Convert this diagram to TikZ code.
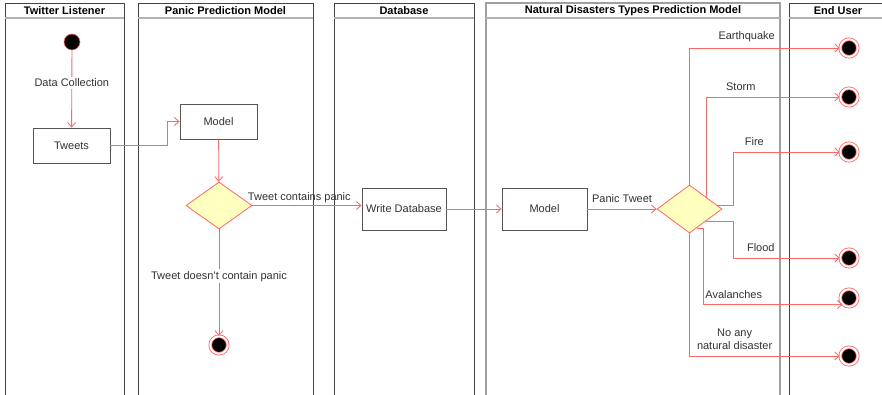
\documentclass[tikz,border=0pt]{standalone}
\usepackage{fontspec}
\setmainfont{Liberation Sans}
\usetikzlibrary{arrows.meta,shapes.geometric}

\definecolor{flow}{HTML}{FF6666}
\definecolor{lanecol}{HTML}{444444}
\definecolor{boxcol}{HTML}{555555}
\definecolor{txt}{HTML}{333333}
\definecolor{decfill}{HTML}{FFFFC0}

\begin{document}
\begin{tikzpicture}[x=1pt,y=-1pt,
  font=\fontsize{11}{13}\selectfont,
  lane/.style={draw=lanecol, line width=0.9pt},
  softlane/.style={draw=gray!75, line width=1.1pt},
  headline/.style={draw=gray!60, line width=1.2pt},
  lanehead/.style={font=\fontsize{11}{13}\selectfont\bfseries, text=black, inner sep=0pt},
  action/.style={draw=boxcol, line width=0.9pt, fill=white, text=txt, inner sep=0pt},
  decision/.style={diamond, draw=flow, fill=decfill, line width=0.8pt, inner sep=0pt},
  startstate/.style={circle, fill=black, draw=flow, line width=0.6pt, minimum size=16pt, inner sep=0pt},
  endstate/.style={circle, fill=black, draw=flow, double=white, double distance=1.9pt,
                   line width=0.8pt, minimum size=17.5pt, inner sep=0pt},
  flowline/.style={draw=flow, line width=0.85pt, -{Straight Barb[length=4.5pt,width=8pt]}},
  lbl/.style={text=txt, inner sep=2pt},
  branchlbl/.style={lbl, above=3.5pt},
]
\clip (0,0) rectangle (882,394);
\fill[white] (0,0) rectangle (882,394);

% swimlanes
\draw[lane] (5,400) |- (124,3) -- (124,400);
\draw[headline] (5,18) -- (124,18);
\node[lanehead] (hTwitter) at (64.5,10.5) {Twitter Listener};

\draw[lane] (138,400) |- (313,3) -- (313,400);
\draw[headline] (138,18) -- (313,18);
\node[lanehead] (hPanic) at (225.5,10.5) {Panic Prediction Model};

\draw[lane] (334,400) |- (474,3) -- (474,400);
\draw[headline] (334,18) -- (474,18);
\node[lanehead] (hDb) at (404,10.5) {Database};

\draw[softlane] (486,400) |- (780,3) -- (780,400);
\draw[headline] (486,18) -- (780,18);
\node[lanehead] (hNat) at (633,10.5) {Natural Disasters Types Prediction Model};

\draw[lane] (789,400) |- (887,3) -- (887,400);
\draw[headline] (789,18) -- (887,18);
\node[lanehead] (hUser) at (838,10.5) {End User};

% nodes
\node[startstate] (start) at (72,42) {};
\node[action, minimum width=77pt, minimum height=35pt] (tweets) at (71.5,145.5) {Tweets};
\node[action, minimum width=77pt, minimum height=35pt] (model) at (218.5,121.5) {Model};
\node[decision, minimum width=66pt, minimum height=47pt] (dec1) at (219,205.5) {};
\node[endstate] (end1) at (219,345) {};
\node[action, minimum width=84pt, minimum height=42pt] (writedb) at (404,209) {Write Database};
\node[action, minimum width=85pt, minimum height=42pt] (model2) at (544.5,209) {Model};
\node[decision, minimum width=65pt, minimum height=48pt] (dec2) at (689.5,209) {};

\node[endstate] (e1) at (849,48) {};
\node[endstate] (e2) at (849,97) {};
\node[endstate] (e3) at (849,152) {};
\node[endstate] (e4) at (849,258) {};
\node[endstate] (e5) at (849,298) {};
\node[endstate] (e6) at (849,356) {};

\coordinate (branchx) at (733,0);
\coordinate (avalx) at (703,0);

% connectors
\draw[flowline] (start) -- node[lbl, fill=white, pos=0.42] {Data Collection} (tweets);
\draw[flowline] (tweets.east) -- ++(57,0) |- (model.west);
\draw[flowline] (model) -- (dec1);
\draw[flowline] (dec1.east) -- node[lbl, above, pos=0.43] {Tweet contains panic} (dec1.east -| writedb.west);
\draw[flowline] (dec1) -- node[lbl, fill=white, pos=0.44] {Tweet doesn't contain panic} (end1);
\draw[flowline] (writedb) -- (model2);
\draw[flowline] (model2) -- node[branchlbl] {Panic Tweet} (dec2);

\draw[flowline] (dec2.north) |- node[branchlbl, pos=0.69] {Earthquake} (e1);
\draw[flowline] (dec2.north east) |- node[branchlbl, pos=0.63] {Storm} (e2);
\draw[flowline] (dec2.8) -- (dec2.8 -| branchx) |- node[branchlbl, pos=0.6] {Fire} (e3);
\draw[flowline] (dec2.south east) -- (dec2.south east -| branchx) |- node[branchlbl, pos=0.63] {Flood} (e4);
\draw[flowline] (dec2.-70) -- (dec2.-70 -| avalx) |- node[branchlbl, pos=0.61] {Avalanches} (e5.225);
\draw[flowline] (dec2.south) |- node[branchlbl, pos=0.65, align=center, font=\fontsize{11}{13}\selectfont] {No any\\natural disaster} (e6);
\end{tikzpicture}
\end{document}
